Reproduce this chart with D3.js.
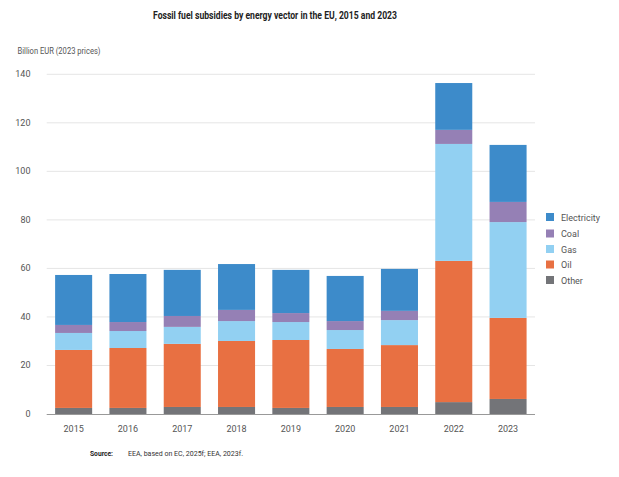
<!DOCTYPE html>
<html><head><meta charset="utf-8">
<script src="https://cdn.jsdelivr.net/npm/d3@7"></script>
<style>body{margin:0;background:#fff;}svg{display:block;font-family:Roboto,sans-serif;}</style>
</head><body>
<svg id="chart" width="619" height="477"></svg>
<script>
const years = ["2015","2016","2017","2018","2019","2020","2021","2022","2023"];
const other = [2.5, 2.5, 2.9, 2.9, 2.5, 2.9, 2.9, 4.9, 6.2];
const oil = [23.9, 24.7, 26.0, 27.2, 28.0, 23.9, 25.5, 58.2, 33.4];
const gas = [7.0, 7.0, 7.0, 8.2, 7.4, 7.8, 10.3, 48.2, 39.5];
const coal = [3.3, 3.7, 4.5, 4.6, 3.7, 3.7, 3.8, 5.8, 8.3];
const electricity = [20.6, 19.8, 19.0, 18.9, 17.8, 18.6, 17.3, 19.3, 23.5];
const seriesNames = ["Other","Oil","Gas","Coal","Electricity"];
const seriesValues = [other, oil, gas, coal, electricity];
const colors = ["#737478","#e87042","#92d0f2","#9580b5","#3d8bca"];
const yTicks = [0,20,40,60,80,100,120,140];

const svg = d3.select("#chart");
const x = d3.scaleBand().domain(years).range([46.7, 535]).paddingInner(0.318).paddingOuter(0.155);
const y = d3.scaleLinear().domain([0,140]).range([414, 74.3]);

const rows = years.map((yr,i)=>{const r={year:yr}; seriesNames.forEach((s,j)=>r[s]=seriesValues[j][i]); return r;});
const stack = d3.stack().keys(seriesNames)(rows);

// gridlines
svg.append("g").selectAll("line").data(yTicks.filter(d=>d>0)).join("line")
  .attr("x1",46.7).attr("x2",535).attr("y1",d=>y(d)).attr("y2",d=>y(d))
  .attr("stroke","#e5e5e5").attr("stroke-width",1);

// y labels
svg.append("g").selectAll("text").data(yTicks).join("text")
  .attr("x",30.5).attr("y",d=>y(d)+3).attr("text-anchor","end")
  .attr("font-size",9).attr("fill","#555").text(d=>d);

// bars
svg.append("g").selectAll("g").data(stack).join("g")
  .attr("fill",(d,i)=>colors[i])
  .selectAll("rect").data(d=>d).join("rect")
  .attr("x",d=>x(d.data.year)).attr("width",x.bandwidth())
  .attr("y",d=>y(d[1])).attr("height",d=>y(d[0])-y(d[1]));

// baseline
svg.append("line").attr("x1",46.7).attr("x2",535).attr("y1",y(0)+0.5).attr("y2",y(0)+0.5)
  .attr("stroke","#999").attr("stroke-width",1.2);

// x labels
svg.append("g").selectAll("text").data(years).join("text")
  .attr("x",d=>x(d)+x.bandwidth()/2).attr("y",431.5).attr("text-anchor","middle")
  .attr("font-size",9).attr("fill","#555").text(d=>d);

// title
svg.append("text").attr("x",153).attr("y",19)
  .attr("font-size",10).attr("font-weight","bold").attr("fill","#222")
  .attr("textLength",244).attr("lengthAdjust","spacingAndGlyphs")
  .text("Fossil fuel subsidies by energy vector in the EU, 2015 and 2023");

svg.append("text").attr("x",17.5).attr("y",54).attr("font-size",9).attr("fill","#555")
  .attr("textLength",83).attr("lengthAdjust","spacingAndGlyphs")
  .text("Billion EUR (2023 prices)");

// legend
const legendOrder = ["Electricity","Coal","Gas","Oil","Other"];
const legendY = [213, 229.5, 245, 260.5, 276];
const lg = svg.append("g").selectAll("g").data(legendOrder).join("g")
  .attr("transform",(d,i)=>`translate(546,${legendY[i]})`);
lg.append("rect").attr("width",8).attr("height",8).attr("fill",d=>colors[seriesNames.indexOf(d)]);
lg.append("text").attr("x",15).attr("y",7.5).attr("font-size",9).attr("fill","#555").text(d=>d);

// source
svg.append("text").attr("x",90).attr("y",456).attr("font-size",8).attr("font-weight","bold").attr("fill","#222")
  .attr("textLength",23).attr("lengthAdjust","spacingAndGlyphs").text("Source:");
svg.append("text").attr("x",128).attr("y",456).attr("font-size",8).attr("fill","#333")
  .attr("textLength",115).attr("lengthAdjust","spacingAndGlyphs").text("EEA, based on EC, 2025f; EEA, 2023f.");
</script>
</body></html>
